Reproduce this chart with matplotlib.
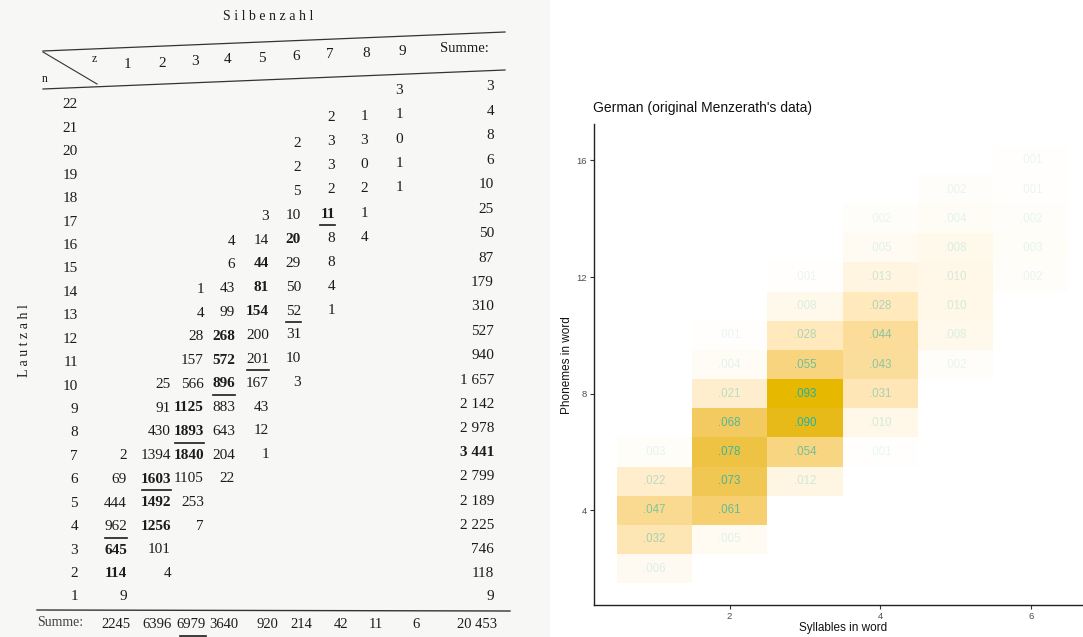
import numpy as np
import matplotlib
matplotlib.use('Agg')
import matplotlib.pyplot as plt
from matplotlib.colors import to_rgb

plt.rcParams['font.family'] = ['Liberation Sans', 'DejaVu Sans']

# --- Menzerath's table (left, scanned page) ---
silbenzahl = [1, 2, 3, 4, 5, 6, 7, 8, 9]
lautzahl = list(range(22, 0, -1))
_ = None
werte = [
    [_, _, _, _, _, _, _, _, 3],
    [_, _, _, _, _, _, 2, 1, 1],
    [_, _, _, _, _, 2, 3, 3, 0],
    [_, _, _, _, _, 2, 3, 0, 1],
    [_, _, _, _, _, 5, 2, 2, 1],
    [_, _, _, _, 3, 10, 11, 1, _],
    [_, _, _, 4, 14, 20, 8, 4, _],
    [_, _, _, 6, 44, 29, 8, _, _],
    [_, _, 1, 43, 81, 50, 4, _, _],
    [_, _, 4, 99, 154, 52, 1, _, _],
    [_, _, 28, 268, 200, 31, _, _, _],
    [_, _, 157, 572, 201, 10, _, _, _],
    [_, 25, 566, 896, 167, 3, _, _, _],
    [_, 91, 1125, 883, 43, _, _, _, _],
    [_, 430, 1893, 643, 12, _, _, _, _],
    [2, 1394, 1840, 204, 1, _, _, _, _],
    [69, 1603, 1105, 22, _, _, _, _, _],
    [444, 1492, 253, _, _, _, _, _, _],
    [962, 1256, 7, _, _, _, _, _, _],
    [645, 101, _, _, _, _, _, _, _],
    [114, 4, _, _, _, _, _, _, _],
    [9, _, _, _, _, _, _, _, _],
]
zeilensumme = ['3', '4', '8', '6', '10', '25', '50', '87', '179', '310', '527',
               '940', '1 657', '2 142', '2 978', '3 441', '2 799', '2 189',
               '2 225', '746', '118', '9']
spaltensumme = ['2245', '6396', '6979', '3640', '920', '214', '42', '11', '6']
gesamtsumme = '20 453'
fett = [(17, 7), (16, 6), (15, 5), (14, 5), (13, 5), (12, 4), (11, 4), (10, 4),
        (9, 3), (8, 3), (7, 3), (6, 2), (5, 2), (4, 2), (3, 1), (2, 1)]
unterstrichen = [(17, 7), (13, 6), (11, 5), (10, 4), (8, 3), (6, 2), (4, 1)]

# --- heatmap (right): share of all words ---
syllables = [1, 1, 1, 1, 1,
             2, 2, 2, 2, 2, 2, 2, 2,
             3, 3, 3, 3, 3, 3, 3, 3,
             4, 4, 4, 4, 4, 4, 4, 4, 4,
             5, 5, 5, 5, 5, 5, 5,
             6, 6, 6, 6, 6]
phonemes = [2, 3, 4, 5, 6,
            3, 4, 5, 6, 7, 8, 9, 10,
            5, 6, 7, 8, 9, 10, 11, 12,
            6, 7, 8, 9, 10, 11, 12, 13, 14,
            9, 10, 11, 12, 13, 14, 15,
            12, 13, 14, 15, 16]
share = [.006, .032, .047, .022, .003,
         .005, .061, .073, .078, .068, .021, .004, .001,
         .012, .054, .090, .093, .055, .028, .008, .001,
         .001, .010, .031, .043, .044, .028, .013, .005, .002,
         .002, .008, .010, .010, .008, .004, .002,
         .002, .003, .002, .001, .001]


# white -> gold gradient interpolated in CIE Lab (like ggplot's scale_fill_gradient)
def srgb_to_lab(c):
    c = np.asarray(c, float)
    lin = np.where(c <= 0.04045, c / 12.92, ((c + 0.055) / 1.055) ** 2.4)
    m = np.array([[0.4124, 0.3576, 0.1805],
                  [0.2126, 0.7152, 0.0722],
                  [0.0193, 0.1192, 0.9505]])
    xyz = m @ lin / np.array([0.95047, 1.0, 1.08883])
    f = np.where(xyz > 0.008856, np.cbrt(xyz), 7.787 * xyz + 16 / 116)
    return np.array([116 * f[1] - 16, 500 * (f[0] - f[1]), 200 * (f[1] - f[2])])


def lab_to_srgb(lab):
    L, a, b = lab
    fy = (L + 16) / 116
    fx = fy + a / 500
    fz = fy - b / 200
    f = np.array([fx, fy, fz])
    xyz = np.where(f ** 3 > 0.008856, f ** 3, (f - 16 / 116) / 7.787)
    xyz = xyz * np.array([0.95047, 1.0, 1.08883])
    m = np.array([[3.2406, -1.5372, -0.4986],
                  [-0.9689, 1.8758, 0.0415],
                  [0.0557, -0.2040, 1.0570]])
    lin = m @ xyz
    c = np.where(lin <= 0.0031308, 12.92 * lin, 1.055 * np.clip(lin, 0, None) ** (1 / 2.4) - 0.055)
    return tuple(np.clip(c, 0, 1))


lab_lo = srgb_to_lab(to_rgb('#FFFFFF'))
lab_hi = srgb_to_lab(to_rgb('#E6B800'))

fig = plt.figure(figsize=(10.83, 6.37), dpi=100)

# page in pixel coordinates
page = fig.add_axes([0, 0, 1, 1])
page.set_xlim(0, 1083)
page.set_ylim(637, 0)
page.axis('off')
page.add_patch(plt.Rectangle((0, 0), 550, 637, color='#f7f7f5', lw=0))

ink = '#1c1c1c'
serif = ['Liberation Serif', 'DejaVu Serif']
fs = 11
col_x = [127, 171, 204, 235, 269, 301, 335, 368, 403]
head_x = [127, 162, 195, 228, 262, 296, 330, 366, 402]
sum_x = 494


def row_y(n, x):
    # the scanned page is slightly bent: upper rows rise to the right
    return 597 - 23.43 * (n - 1) - 0.044 * ((n - 1) / 21) ** 1.3 * (x - 75)


page.text(268, 16, 'S i l b e n z a h l', ha='center', va='center',
          fontsize=10, color=ink, family=serif)
page.text(25, 341, 'L a u t z a h l', ha='center', va='center', rotation=90,
          fontsize=10, color=ink, family=serif)

# header
page.plot([43, 505], [51, 32], color='#333', lw=0.9)
page.plot([43, 505], [89, 70], color='#333', lw=0.9)
page.plot([43, 97], [52, 84], color='#333', lw=0.8)
page.text(45, 79, 'n', ha='center', va='center', fontsize=8.5, color=ink, family=serif)
page.text(94, 59, 'z', ha='center', va='center', fontsize=8.5, color=ink, family=serif)
for z, hx in zip(silbenzahl, head_x):
    page.text(hx, 65 - 0.05 * (hx - 127), str(z), ha='center', va='center',
              fontsize=fs, color=ink, family=serif)
page.text(464, 49, 'Summe:', ha='center', va='center', fontsize=10.5, color=ink,
          family=serif)

# body
for n, row, s in zip(lautzahl, werte, zeilensumme):
    page.text(78, row_y(n, 75), str(n), ha='right', va='center', fontsize=fs,
              color=ink, family=serif)
    for z, v in zip(silbenzahl, row):
        if v is None:
            continue
        x = col_x[z - 1]
        y = row_y(n, x)
        page.text(x, y, str(v), ha='right', va='center', fontsize=fs, color=ink,
                  family=serif, fontweight='bold' if (n, z) in fett else 'normal')
        if (n, z) in unterstrichen:
            w = 7 * len(str(v)) + 1
            page.plot([x - w, x], [y + 11, y + 11], color=ink, lw=1.2)
    page.text(sum_x, row_y(n, sum_x), s, ha='right', va='center', fontsize=fs,
              color=ink, family=serif, fontweight='bold' if n == 7 else 'normal')

# totals row
page.plot([37, 510], [610, 611], color='#333', lw=1.0)
page.text(37, 623, 'Summe:', ha='left', va='center', fontsize=10, color='#444',
          family=serif)
summe_x = [130, 172, 206, 238, 278, 312, 348, 383, 420]
for x, s in zip(summe_x, spaltensumme):
    page.text(x, 625, s, ha='right', va='center', fontsize=10.5, color=ink, family=serif)
page.plot([180, 206], [636, 636], color=ink, lw=1.2)
page.text(497, 625, gesamtsumme, ha='right', va='center', fontsize=10.5, color=ink,
          family=serif)

# --- heatmap ---
ax = fig.add_axes([594 / 1083, 32 / 637, 497 / 1083, 481 / 637])
share_arr = np.array(share)
t = share_arr / share_arr.max()
fills = [lab_to_srgb(lab_lo + ti * (lab_hi - lab_lo)) for ti in t]
ax.bar(syllables, 1.0, bottom=np.array(phonemes) - 0.5, width=1.0,
       color=fills, linewidth=0)
alphas = 0.1 + 0.9 * (share_arr - share_arr.min()) / (share_arr.max() - share_arr.min())
for x, y, v, a in zip(syllables, phonemes, share, alphas):
    ax.text(x, y, f'{v:.3f}'[1:], ha='center', va='center', fontsize=8.3,
            color='#20B2AA', alpha=a)

ax.set_xlim(0.2, 6.8)
ax.set_ylim(0.75, 17.25)
ax.set_xticks([2, 4, 6])
ax.set_yticks([4, 8, 12, 16])
ax.spines['top'].set_visible(False)
ax.spines['right'].set_visible(False)
for sp in ('left', 'bottom'):
    ax.spines[sp].set_linewidth(1.0)
    ax.spines[sp].set_color('#222')
ax.tick_params(length=3, width=0.8, color='#333', labelcolor='#4d4d4d',
               labelsize=6.8, pad=2)

fig.text(593 / 1083, 1 - 108 / 637, "German (original Menzerath's data)",
         ha='left', va='center', fontsize=10, color='#111')
fig.text(567 / 1083, 1 - 365 / 637, 'Phonemes in word', rotation=90,
         ha='center', va='center', fontsize=8.5, color='#111')
fig.text(843 / 1083, 1 - 628 / 637, 'Syllables in word', ha='center', va='center',
         fontsize=8.5, color='#111')

fig.savefig('out.png', dpi=100)
